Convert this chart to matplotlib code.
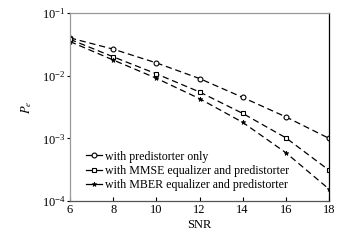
import numpy as np
import matplotlib.pyplot as plt
from matplotlib.ticker import NullLocator

plt.rcParams['font.family'] = ['Liberation Serif', 'DejaVu Serif']
plt.rcParams['mathtext.fontset'] = 'stix'

snr = [6, 8, 10, 12, 14, 16, 18]
pe_pred = [0.040, 0.0265, 0.016, 0.0090, 0.0045, 0.0022, 0.0010]
pe_mmse = [0.038, 0.020, 0.0107, 0.0055, 0.0025, 0.00102, 0.00031]
pe_mber = [0.035, 0.0178, 0.0091, 0.0043, 0.0018, 0.00059, 0.000155]

labels = ['with predistorter only',
          'with MMSE equalizer and predistorter',
          'with MBER equalizer and predistorter']

fig = plt.figure(figsize=(3.57, 2.41), dpi=100)
ax = fig.add_axes([70 / 357, 1 - 201 / 241, 259 / 357, 188 / 241])

ax.semilogy(snr, pe_pred, '--', color='black', lw=0.9, marker='o', ms=3.5,
            mfc='white', mec='black', mew=0.8, dashes=(5, 3), label=labels[0])
ax.semilogy(snr, pe_mmse, '--', color='black', lw=0.9, marker='s', ms=3.5,
            mfc='white', mec='black', mew=0.8, dashes=(5, 3), label=labels[1])
ax.semilogy(snr, pe_mber, '--', color='black', lw=0.9, marker='*', ms=3.5,
            mfc='black', mec='black', mew=0.5, dashes=(5, 3), label=labels[2])

ax.set_xlim(6, 18)
ax.set_ylim(1e-4, 1e-1)
ax.set_xticks(snr)
ax.yaxis.set_minor_locator(NullLocator())
ax.tick_params(axis='x', direction='in', length=3, labelsize=9, pad=2)
ax.tick_params(axis='y', direction='out', length=2, labelsize=9, pad=1)
for s in ['left', 'top']:
    ax.spines[s].set_color('#999999')
ax.spines['bottom'].set_color('#555555')
ax.spines['right'].set_color('black')
for s in ax.spines.values():
    s.set_linewidth(0.9)

ax.set_xlabel('SNR', fontsize=9, labelpad=2)
ax.set_ylabel('$P_e$', fontsize=9, labelpad=6)

leg = ax.legend(loc='lower left', bbox_to_anchor=(0.025, 0.0), frameon=False,
                fontsize=8.6, handlelength=1.3, handletextpad=0.3,
                labelspacing=0.2, borderpad=0.3)
for h in leg.get_lines():
    h.set_linestyle('-')

fig.savefig('out.png', dpi=100)
